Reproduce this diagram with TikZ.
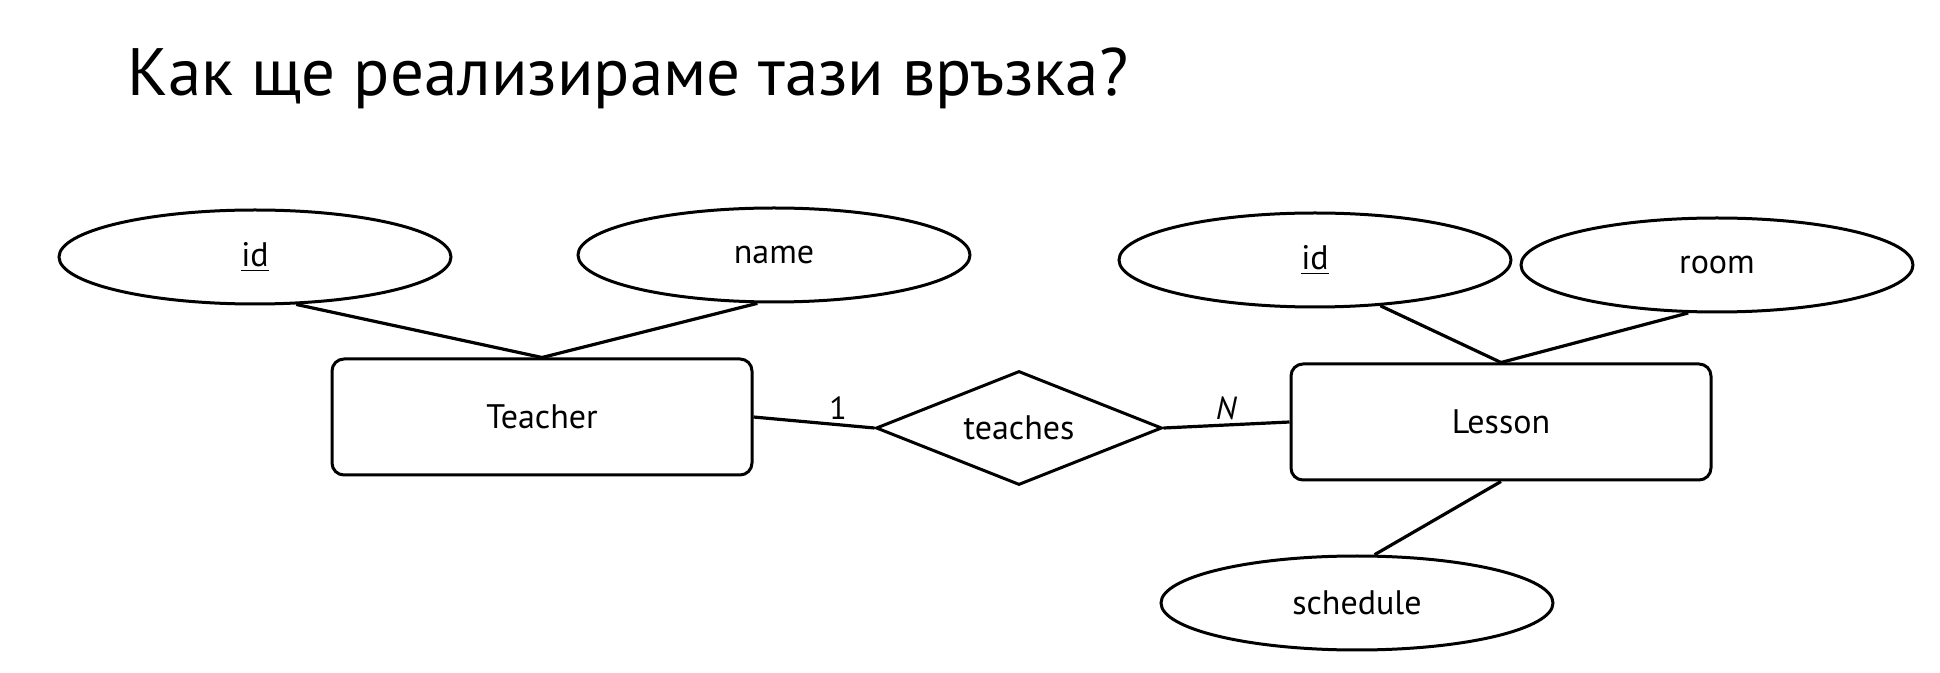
\documentclass[tikz,border=0pt]{standalone}
\usepackage{fontspec}
\setmainfont{PT Sans}
\usetikzlibrary{shapes.geometric, positioning}

\begin{document}
\begin{tikzpicture}[
    x=0.5pt, y=-0.5pt,
    line width=1.5pt, font=\fontsize{17}{20}\selectfont,
    attr/.style={ellipse, draw, minimum width=196pt, minimum height=47pt, inner sep=0pt},
    entity/.style={rectangle, draw, rounded corners=6pt, minimum width=210pt, minimum height=58pt},
    rel/.style={diamond, draw, shape aspect=2.5, minimum width=143pt, minimum height=57pt, inner sep=0pt},
    link/.style={draw, line width=1.6pt},
    card/.style={font=\fontsize{16}{18}\selectfont, inner sep=2pt},
    heading/.style={font=\fontsize{33.5}{38}\selectfont, inner sep=0pt, anchor=base west},
  ]
  \useasboundingbox (0,0) rectangle (1940,673);
  % title
  \node[heading] (title) at (126,96) {Как ще реализираме тази връзка?};
  % entities and relation
  \node[entity] (teacher) at (542,417) {Teacher};
  \node[rel] (teaches) at (1019,428) {teaches};
  \node[entity] (lesson) at (1501,422) {Lesson};
  % attributes
  \node[attr] (tid) at (255,257) {\underline{id}};
  \node[attr] (tname) at (774,255) {name};
  \node[attr] (lid) at (1315,260) {\underline{id}};
  \node[attr] (lroom) at (1717,265) {room};
  \node[attr] (lsched) at (1357,603) {schedule};
  % connectors
  \draw[link] (tid.-49) -- (teacher.north);
  \draw[link] (tname.-109) -- (teacher.north);
  \draw[link] (lid.-35) -- (lesson.north);
  \draw[link] (lroom.-121) -- (lesson.north);
  \draw[link] (lesson.south) -- (lsched.70);
  \draw[link] (teacher.east) -- node[card, above, pos=0.7] (c1) {1} (teaches.west);
  \draw[link] (teaches.east) -- node[card, above, pos=0.5] (cn) {\textit{N}} (lesson.west);
\end{tikzpicture}
\end{document}
